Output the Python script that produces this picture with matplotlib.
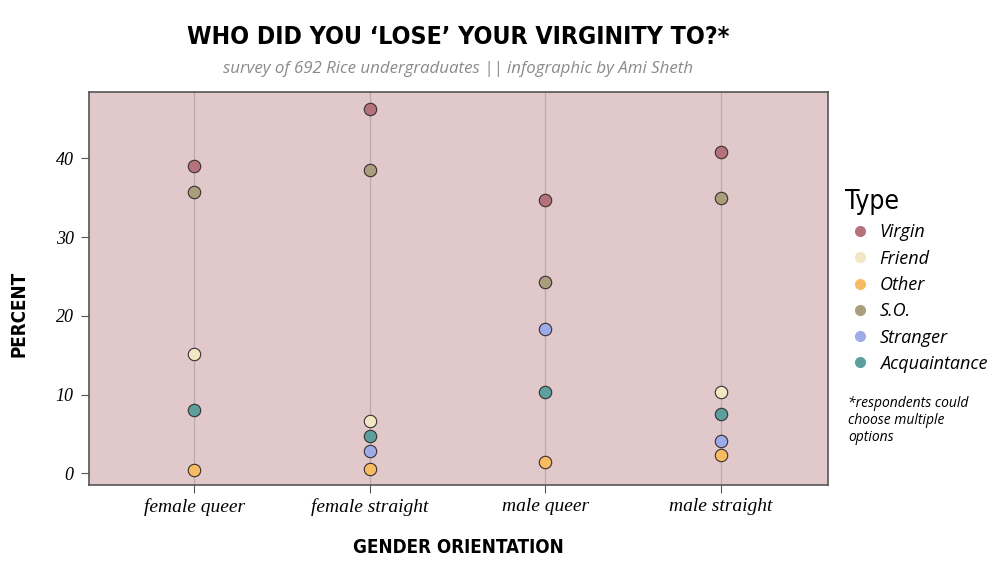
import matplotlib.pyplot as plt
from matplotlib.lines import Line2D

# data
groups = ["female queer", "female straight", "male queer", "male straight"]
types = ["Virgin", "Friend", "Other", "S.O.", "Stranger", "Acquaintance"]
colors = ["#b5727a", "#f1e7c3", "#f7bb63", "#a99d7b", "#9dabe9", "#5b9f9e"]

virgin = [39.1, 46.3, 34.7, 40.8]
friend = [15.2, 6.6, None, 10.3]
other = [0.5, 0.6, 1.5, 2.4]
so = [35.7, 38.5, 24.3, 35.0]
stranger = [None, 2.8, 18.3, 4.1]
acquaintance = [8.0, 4.8, 10.4, 7.6]

series = [virgin, friend, other, so, stranger, acquaintance]

COND = dict(family="DejaVu Sans", stretch="condensed", weight="bold")

fig = plt.figure(figsize=(10, 5.77), dpi=100)
ax = fig.add_axes([0.089, 0.159, 0.739, 0.681])
ax.set_facecolor("#e1c8ca")

xs = list(range(len(groups)))
for x in xs:
    ax.axvline(x, color="#bca9ab", linewidth=0.9, zorder=1)

for name, vals, col in zip(types, series, colors):
    px = [x for x, v in zip(xs, vals) if v is not None]
    py = [v for v in vals if v is not None]
    ax.scatter(px, py, s=80, color=col, edgecolor="#3a3030", linewidth=0.8, zorder=3)

ax.set_xlim(-0.6, 3.61)
ax.set_ylim(-1.5, 48.4)
ax.set_xticks(xs)
ax.set_xticklabels(groups, fontfamily="Liberation Serif", fontstyle="italic", fontsize=14)
ax.set_yticks([0, 10, 20, 30, 40])
ax.set_yticklabels(["0", "10", "20", "30", "40"], fontfamily="Liberation Serif",
                   fontstyle="italic", fontsize=13)
ax.tick_params(length=6, color="#555555", width=0.8, pad=5)
ax.tick_params(axis="x", pad=3)
for sp in ax.spines.values():
    sp.set_color("#555555")
    sp.set_linewidth(1.2)

ax.set_ylabel("PERCENT", fontsize=13.5, **COND)
ax.yaxis.set_label_coords(-0.082, 0.435)
ax.set_xlabel("GENDER ORIENTATION", fontsize=13.5, labelpad=16, **COND)

fig.text(0.458, 0.936, "WHO DID YOU \u2018LOSE\u2019 YOUR VIRGINITY TO?*", ha="center", va="center",
         fontsize=17.8, **COND)
fig.text(0.458, 0.881, "survey of 692 Rice undergraduates || infographic by Ami Sheth",
         ha="center", va="center", fontfamily="Open Sans", fontstyle="italic",
         fontsize=12.2, color="#8a8a8a")

handles = [Line2D([], [], linestyle="none", marker="o", markersize=8,
                  markerfacecolor=c, markeredgecolor="none") for c in colors]
leg = fig.legend(handles, types, loc="upper left", bbox_to_anchor=(0.838, 0.685),
                 frameon=False, title="Type", alignment="left", handletextpad=0.3,
                 labelspacing=0.46, borderaxespad=0, handlelength=1.6,
                 prop={"family": "Open Sans", "style": "italic", "size": 13},
                 title_fontproperties={"family": "DejaVu Sans", "stretch": "condensed",
                                       "size": 19})

fig.text(0.848, 0.314, "*respondents could\nchoose multiple\noptions", ha="left", va="top",
         fontfamily="Open Sans", fontstyle="italic", fontsize=10, linespacing=1.2)

fig.savefig("out.png", dpi=100, facecolor="white")
